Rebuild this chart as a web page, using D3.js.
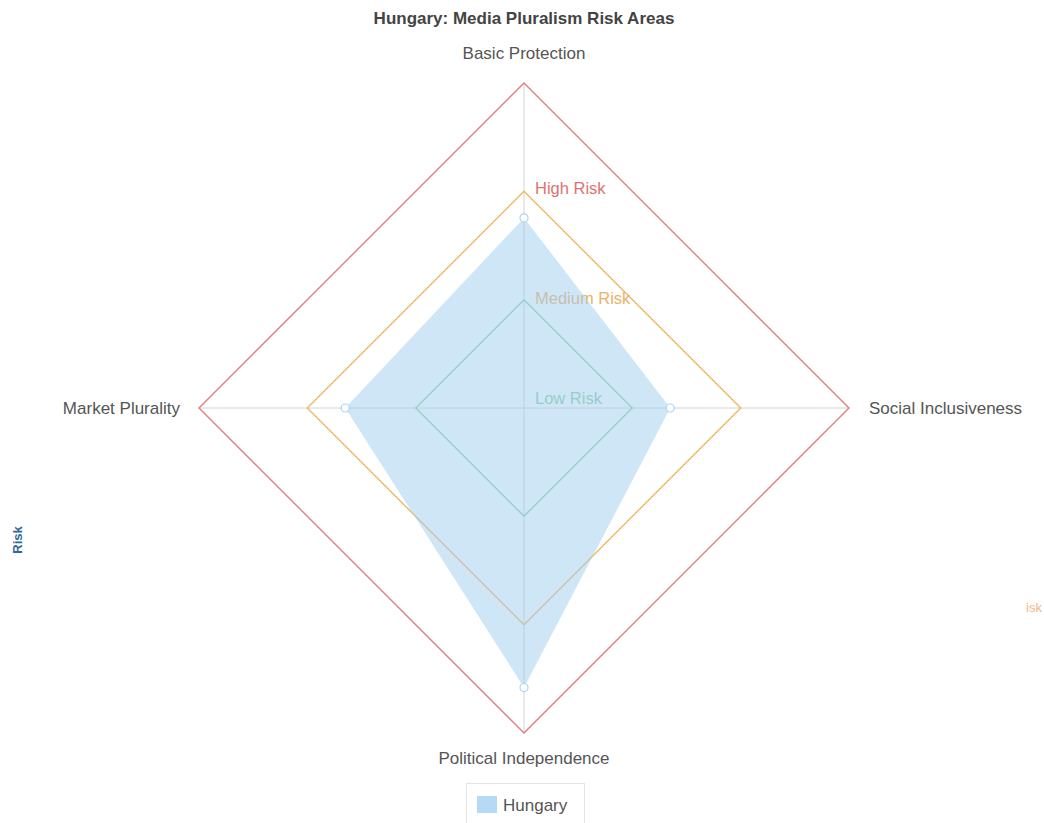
<!DOCTYPE html>
<html>
<head>
<meta charset="utf-8">
<script src="https://cdn.jsdelivr.net/npm/d3@7"></script>
<style>
  body { margin: 0; background: #fff; }
  svg { display: block; font-family: "Liberation Sans", Arial, sans-serif; }
</style>
</head>
<body>
<svg id="chart" width="1044" height="823"></svg>
<script>
const categories = ["Basic Protection", "Social Inclusiveness", "Political Independence", "Market Plurality"];
const seriesName = "Hungary";
const values = [58.5, 45, 86, 55];
const ringValues = [33.3, 66.7, 100];
const ringLabels = ["Low Risk", "Medium Risk", "High Risk"];
const ringLabelValues = [0, 33.3, 66.7];
const ringColors = ["#8fd0a0", "#f0b865", "#e37c7c"];
const ringLabelColors = ["#7fc795", "#eaa956", "#d96464"];

const svg = d3.select("#chart");
const cx = 524, cy = 408, R = 325;
const r = d3.scaleLinear().domain([0, 100]).range([0, R]);
const angle = d3.scalePoint().domain(categories.concat(["_end"])).range([0, 2 * Math.PI]);
const pt = (cat, v) => {
  const a = angle(cat) - Math.PI / 2;
  return [cx + r(v) * Math.cos(a), cy + r(v) * Math.sin(a)];
};

// title
svg.append("text").attr("x", 524).attr("y", 24).attr("text-anchor", "middle")
  .attr("font-size", 17).attr("font-weight", "bold").attr("fill", "#444")
  .text("Hungary: Media Pluralism Risk Areas");

// spokes
categories.forEach(c => {
  const [x, y] = pt(c, 100);
  svg.append("line").attr("x1", cx).attr("y1", cy).attr("x2", x).attr("y2", y)
    .attr("stroke", "#d4d4d4").attr("stroke-width", 1);
});

const line = d3.line().curve(d3.curveLinearClosed);

// rings
ringValues.forEach((v, i) => {
  svg.append("path")
    .attr("d", line(categories.map(c => pt(c, v))))
    .attr("fill", "none").attr("stroke", ringColors[i]).attr("stroke-width", 1.4);
});

// ring labels
const ringLabelDy = [-4, 4, 3];
ringLabelValues.forEach((v, i) => {
  const [x, y] = pt(categories[0], v);
  svg.append("text").attr("x", x + 11).attr("y", y + ringLabelDy[i])
    .attr("font-size", 16.5).attr("fill", ringLabelColors[i]).attr("opacity", 0.9)
    .text(ringLabels[i]);
});

// data area (drawn over rings, translucent)
svg.append("path")
  .attr("d", line(categories.map((c, i) => pt(c, values[i]))))
  .attr("fill", "rgb(160,205,240)").attr("fill-opacity", 0.5).attr("stroke", "none");

// points
categories.forEach((c, i) => {
  const [x, y] = pt(c, values[i]);
  svg.append("circle").attr("cx", x).attr("cy", y).attr("r", 4)
    .attr("fill", "#fff").attr("stroke", "#a8d4f5").attr("stroke-width", 1.2);
});

// category labels
const labelPos = [
  {dx: 0, dy: -24, anchor: "middle"},
  {dx: 20, dy: 6, anchor: "start"},
  {dx: 0, dy: 31, anchor: "middle"},
  {dx: -19, dy: 6, anchor: "end"}
];
categories.forEach((c, i) => {
  const [x, y] = pt(c, 100);
  svg.append("text").attr("x", x + labelPos[i].dx).attr("y", y + labelPos[i].dy)
    .attr("text-anchor", labelPos[i].anchor).attr("font-size", 17).attr("fill", "#555")
    .text(c);
});

// side fragments
svg.append("text").attr("transform", "translate(22,540) rotate(-90)")
  .attr("text-anchor", "middle").attr("font-size", 13).attr("font-weight", "bold")
  .attr("fill", "#2f6896").text("Risk");
svg.append("text").attr("x", 1026).attr("y", 612).attr("font-size", 13)
  .attr("fill", "#f0b58a").text("isk");

// legend
const lg = svg.append("g");
lg.append("rect").attr("x", 466.5).attr("y", 783.5).attr("width", 118).attr("height", 42)
  .attr("fill", "#fff").attr("stroke", "#e3e3e3").attr("stroke-width", 1);
lg.append("rect").attr("x", 477).attr("y", 796).attr("width", 20).attr("height", 17)
  .attr("fill", "#b6daf6");
lg.append("text").attr("x", 503).attr("y", 811).attr("font-size", 17).attr("fill", "#555")
  .text(seriesName);
</script>
</body>
</html>
